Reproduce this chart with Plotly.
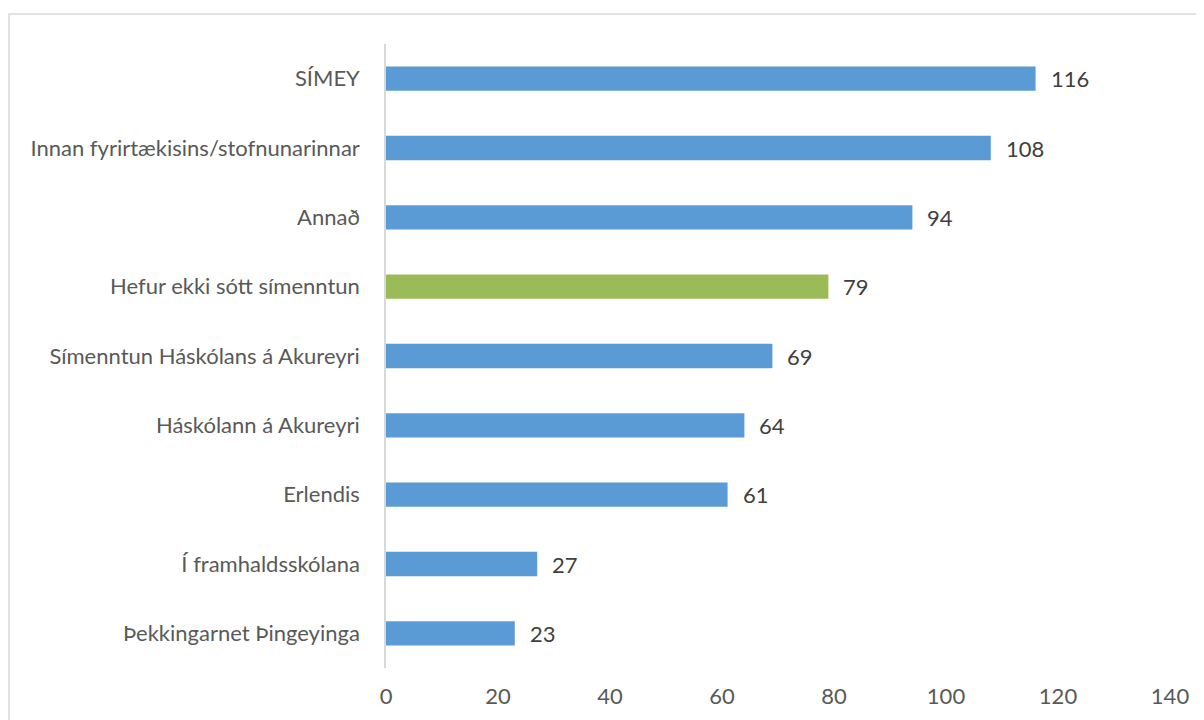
import plotly.graph_objects as go

categories = ["SÍMEY", "Innan fyrirtækisins/stofnunarinnar", "Annað",
              "Hefur ekki sótt símenntun", "Símenntun Háskólans á Akureyri",
              "Háskólann á Akureyri", "Erlendis", "Í framhaldsskólana",
              "Þekkingarnet Þingeyinga"]
values = [116, 108, 94, 79, 69, 64, 61, 27, 23]
highlight = "Hefur ekki sótt símenntun"
x_ticks = [0, 20, 40, 60, 80, 100, 120, 140]

BLUE = "#5B9BD5"
GREEN = "#9BBB59"
colors = [GREEN if c == highlight else BLUE for c in categories]

FONT = "Lato"
FS = 22

fig = go.Figure()
fig.add_trace(go.Bar(
    x=values, y=categories, orientation="h",
    marker=dict(color=colors, line=dict(width=0)),
    width=0.35, hoverinfo="skip",
))

for c, v in zip(categories, values):
    fig.add_annotation(x=v, y=c, text=str(v), showarrow=False,
                       xanchor="left", xshift=13,
                       font=dict(family=FONT, size=FS, color="#404040"))

L, R, T, B = 378, 42, 36, 60
pw = 1204 - L - R
ph = 720 - T - B
fig.add_shape(type="rect", xref="paper", yref="paper",
              x0=(1 - L) / pw, x1=(1204 + 10 - L) / pw,
              y0=-(B + 10) / ph, y1=1 + (T - 6) / ph,
              line=dict(color="#D9D9D9", width=1.5), fillcolor="rgba(0,0,0,0)",
              layer="below")

fig.update_layout(
    width=1204, height=720,
    margin=dict(l=L, r=R, t=T, b=B),
    paper_bgcolor="white", plot_bgcolor="white",
    showlegend=False,
    font=dict(family=FONT, size=FS, color="#595959"),
    xaxis=dict(range=[0, 140], tickvals=x_ticks, showgrid=False,
               zeroline=False, showline=False, ticks="",
               ticklabelstandoff=13,
               tickfont=dict(family=FONT, size=FS, color="#595959")),
    yaxis=dict(categoryorder="array", categoryarray=categories[::-1],
               showgrid=False, zeroline=False, showline=True,
               linecolor="#D9D9D9", linewidth=1.5, ticks="",
               ticklabelstandoff=20,
               tickfont=dict(family=FONT, size=FS, color="#595959")),
)

fig.write_html("out.html")
